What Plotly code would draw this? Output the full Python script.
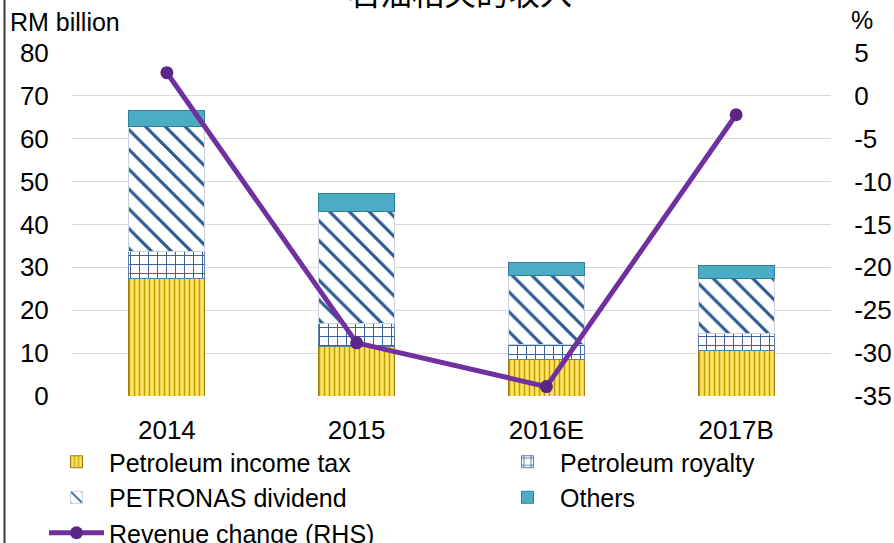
import plotly.graph_objects as go

# ---- data ----
categories = ["2014", "2015", "2016E", "2017B"]
income_tax = [27.5, 11.5, 8.4, 10.7]
royalty = [6.1, 5.5, 3.7, 3.9]
dividend = [29.2, 26.0, 16.1, 12.8]
others = [3.7, 4.3, 2.9, 3.0]
revenue_change = [2.7, -28.8, -33.9, -2.2]
left_ticks = [0, 10, 20, 30, 40, 50, 60, 70, 80]
right_ticks = [-35, -30, -25, -20, -15, -10, -5, 0, 5]
right_tick_text = [str(v) for v in right_ticks]

FONT = "Liberation Sans, Arial, sans-serif"
W, H = 894, 543
ML, MR, MT, MB = 72, 63, 53, 147
PW = W - ML - MR
PH = H - MT - MB


def px_x(p):
    return (p - ML) / PW


def px_y(p):
    return 1 + (MT - p) / PH


fig = go.Figure()

fig.add_trace(go.Bar(
    x=categories, y=income_tax, name="Petroleum income tax", legend="legend",
    marker=dict(color="#FFE15A", line=dict(color="#9C7F10", width=1),
                pattern=dict(shape="|", fgcolor="#C29A00", bgcolor="#FFE463",
                             fgopacity=1, size=5, solidity=0.3)),
))
fig.add_trace(go.Bar(
    x=categories, y=royalty, name="Petroleum royalty", legend="legend2",
    marker=dict(color="white", line=dict(color="#5D7FAF", width=1),
                pattern=dict(shape="+", fgcolor="#2E5D9A", bgcolor="#FFFFFF",
                             fgopacity=1, size=9, solidity=0.2)),
))
fig.add_trace(go.Bar(
    x=categories, y=dividend, name="PETRONAS dividend", legend="legend",
    marker=dict(color="white", line=dict(color="#C9D3E0", width=1),
                pattern=dict(shape="\\", fgcolor="#2A5A93", bgcolor="#FFFFFF",
                             fgopacity=1, size=14, solidity=0.22)),
))
fig.add_trace(go.Bar(
    x=categories, y=others, name="Others", legend="legend2",
    marker=dict(color="#4BACC6", line=dict(color="#2E7F96", width=1)),
))
fig.add_trace(go.Scatter(
    x=categories, y=revenue_change, name="Revenue change (RHS)", yaxis="y2",
    legend="legend", mode="lines+markers",
    line=dict(color="#7030A0", width=5),
    marker=dict(symbol="circle", size=13, color="#5A2787"),
))

legend_common = dict(orientation="v", yanchor="top", xanchor="left",
                     itemwidth=55, font=dict(size=25),
                     bgcolor="rgba(0,0,0,0)", traceorder="normal")

fig.update_layout(
    width=W, height=H,
    margin=dict(l=ML, r=MR, t=MT, b=MB, autoexpand=False),
    paper_bgcolor="white", plot_bgcolor="white",
    font=dict(family=FONT, size=26, color="black"),
    barmode="stack", bargap=0.6,
    xaxis=dict(ticks="outside", ticklen=11, tickcolor="rgba(0,0,0,0)",
               tickfont=dict(size=26), showline=False, showgrid=False),
    yaxis=dict(range=[0, 80], tickvals=left_ticks, showgrid=True,
               gridcolor="#D9D9D9", gridwidth=1, zeroline=False,
               ticks="outside", ticklen=17, tickcolor="rgba(0,0,0,0)",
               tickfont=dict(size=26)),
    yaxis2=dict(range=[-35, 5], tickvals=right_ticks, ticktext=right_tick_text,
                overlaying="y", side="right", showgrid=False, zeroline=False,
                ticks="outside", ticklen=17, tickcolor="rgba(0,0,0,0)",
                tickfont=dict(size=26)),
    legend=dict(x=px_x(44), y=px_y(439), **legend_common),
    legend2=dict(x=px_x(495), y=px_y(439), **legend_common),
    showlegend=True,
)

fig.add_annotation(text="RM billion", xref="paper", yref="paper",
                   x=px_x(8), y=px_y(22), xanchor="left", yanchor="middle",
                   showarrow=False, font=dict(size=25))
fig.add_annotation(text="%", xref="paper", yref="paper",
                   x=px_x(849), y=px_y(20), xanchor="left", yanchor="middle",
                   showarrow=False, font=dict(size=25))
fig.add_annotation(text="石油相关的收入", xref="paper", yref="paper",
                   x=px_x(460), y=px_y(-9), xanchor="center", yanchor="middle",
                   showarrow=False,
                   font=dict(size=32, family="Noto Sans CJK SC, sans-serif"))

fig.add_shape(type="line", xref="paper", yref="paper",
              x0=px_x(4.5), x1=px_x(4.5), y0=px_y(0), y1=px_y(H + 5),
              line=dict(color="#3A3A3A", width=2))

fig.write_html("out.html", config={"displayModeBar": False},
               post_script="document.body.style.margin='0';document.body.style.overflow='hidden';")
